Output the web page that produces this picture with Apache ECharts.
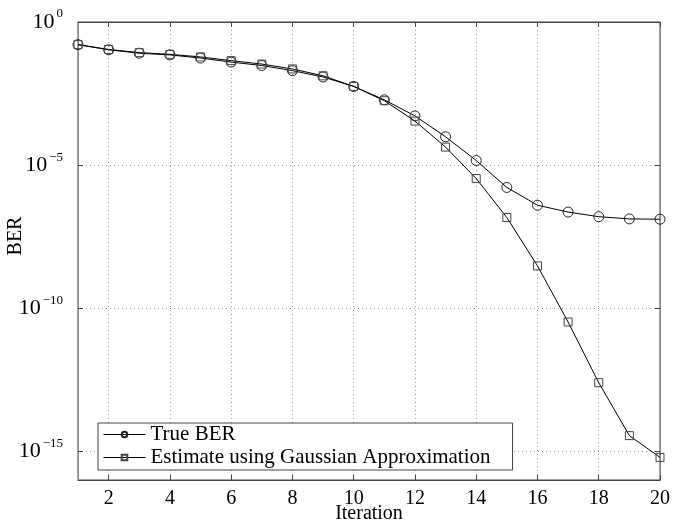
<!DOCTYPE html>
<html><head><meta charset="utf-8">
<script src="https://cdn.jsdelivr.net/npm/echarts@6/dist/echarts.min.js"></script>
<style>html,body{margin:0;padding:0;background:#fff}#c{width:673px;height:523px}</style>
</head><body><div id="c"></div>
<script>
const iterations = [1,2,3,4,5,6,7,8,9,10,11,12,13,14,15,16,17,18,19,20];
const trueBER = [0.162,0.107,0.0813,0.0708,0.0550,0.0398,0.0302,0.0200,0.0120,0.00562,0.00191,5.25e-4,9.77e-5,1.45e-5,1.66e-6,3.98e-7,2.29e-7,1.58e-7,1.32e-7,1.29e-7];
const gaussBER = [0.162,0.110,0.0851,0.0741,0.0603,0.0447,0.0339,0.0229,0.0132,0.00562,0.00178,3.47e-4,4.27e-5,3.39e-6,1.48e-7,3.02e-9,3.31e-11,2.51e-13,3.55e-15,6.17e-16];
const xTicks = [2,4,6,8,10,12,14,16,18,20];
const yTicks = [1,1e-5,1e-10,1e-15];
const seriesNames = ['True BER','Estimate using Gaussian Approximation'];

const font = 'Liberation Serif';
const chart = echarts.init(document.getElementById('c'));
const pair = (arr) => iterations.map((x,i)=>[x,arr[i]]);
const supFmt = (v) => {
  const e = Math.round(Math.log10(v));
  return '{b|10}{s|' + (e < 0 ? '\u2212' + (-e) : e) + '}';
};
const gridLine = {show:true, lineStyle:{type:[1,3], color:'#999', width:1}};
chart.setOption({
  animation:false,
  backgroundColor:'#fff',
  grid:{left:78, right:13, top:22, bottom:43, outerBoundsMode:'none', containLabel:false,
        show:true, borderColor:'#444', borderWidth:1},
  legend:{
    left:98, top:423, orient:'vertical', itemGap:2, itemWidth:42, itemHeight:7,
    backgroundColor:'#fff', borderColor:'#444', borderWidth:1, padding:[1,22,2,5],
    lineStyle:{width:1},
    textStyle:{fontFamily:font, fontSize:21, color:'#000'},
    data:[seriesNames[0], seriesNames[1]]
  },
  xAxis:[{
    type:'value', min:1, max:20, position:'bottom',
    name:'Iteration', nameLocation:'middle', nameGap:24, nameMoveOverlap:false,
    nameTextStyle:{fontFamily:font, fontSize:20, color:'#000'},
    axisLine:{show:true, lineStyle:{color:'#444'}},
    axisTick:{show:true, inside:true, length:5, customValues:xTicks, lineStyle:{color:'#444'}},
    axisLabel:{customValues:xTicks, fontFamily:font, fontSize:20, color:'#000', margin:9},
    splitLine:gridLine
  },{
    type:'value', min:1, max:20, position:'top',
    axisLine:{show:true, lineStyle:{color:'#444'}},
    axisTick:{show:true, inside:true, length:5, customValues:xTicks, lineStyle:{color:'#444'}},
    axisLabel:{show:false}, splitLine:{show:false}
  }],
  yAxis:[{
    type:'log', logBase:10, min:1e-16, max:1, position:'left',
    name:'BER', nameLocation:'middle', nameGap:52, nameMoveOverlap:false,
    nameTextStyle:{fontFamily:font, fontSize:20, color:'#000', padding:[0,0,0,30]},
    axisLine:{show:true, lineStyle:{color:'#888'}},
    axisTick:{show:true, inside:true, length:5, customValues:yTicks, lineStyle:{color:'#444'}},
    axisLabel:{customValues:yTicks, formatter:supFmt, margin:15,
      rich:{b:{fontFamily:font, fontSize:22, color:'#000'}, s:{fontFamily:font, fontSize:13, color:'#000', padding:[0,0,16,2]}}},
    splitLine:gridLine
  },{
    type:'log', logBase:10, min:1e-16, max:1, position:'right',
    axisLine:{show:true, lineStyle:{color:'#888'}},
    axisTick:{show:true, inside:true, length:5, customValues:yTicks, lineStyle:{color:'#444'}},
    axisLabel:{show:false}, splitLine:{show:false}
  }],
  series:[{
    name:seriesNames[0], type:'line', data:pair(trueBER), xAxisIndex:0, yAxisIndex:0,
    symbol:'circle', symbolSize:10, showAllSymbol:true,
    lineStyle:{color:'#000', width:1}, itemStyle:{color:'rgba(255,255,255,0)', borderColor:'#222', borderWidth:1}
  },{
    name:seriesNames[1], type:'line', data:pair(gaussBER), xAxisIndex:0, yAxisIndex:0,
    symbol:'rect', symbolSize:8, showAllSymbol:true,
    lineStyle:{color:'#000', width:1}, itemStyle:{color:'rgba(255,255,255,0)', borderColor:'#444', borderWidth:1}
  }]
});
</script></body></html>
